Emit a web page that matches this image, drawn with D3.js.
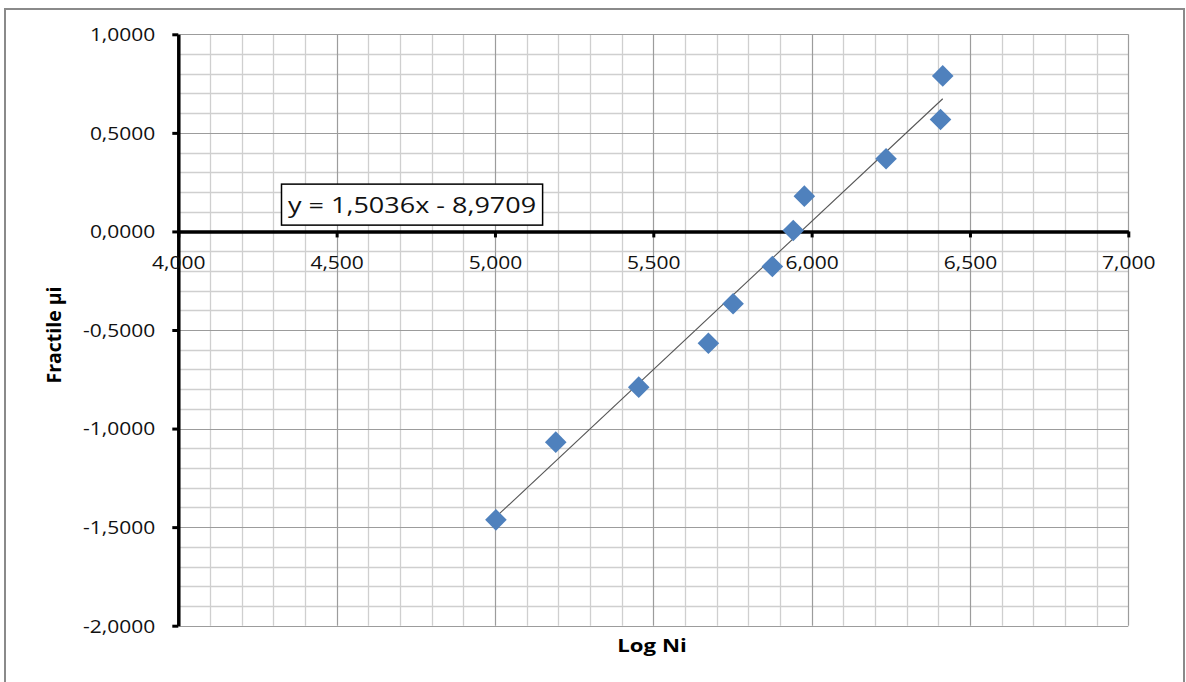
<!DOCTYPE html>
<html>
<head>
<meta charset="utf-8">
<script src="https://cdn.jsdelivr.net/npm/d3@7"></script>
<style>
  html, body { margin: 0; padding: 0; background: #ffffff; }
  svg { display: block; font-family: "Open Sans", "Noto Sans", sans-serif; }
</style>
</head>
<body>
<svg id="chart" width="1186" height="682"></svg>
<script>
// Measured points: log of cycles to failure vs. normal fractile
const logNi    = [5.003, 5.192, 5.454, 5.674, 5.752, 5.876, 5.942, 5.977, 6.235, 6.407, 6.414];
const fractile = [-1.463, -1.069, -0.790, -0.567, -0.367, -0.178, 0.005, 0.179, 0.369, 0.568, 0.789];

// Axis ticks
const xTickValues = [4.0, 4.5, 5.0, 5.5, 6.0, 6.5, 7.0];
const yTickValues = [-2.0, -1.5, -1.0, -0.5, 0.0, 0.5, 1.0];

// Linear trendline coefficients
const trendSlope = 1.5036;
const trendIntercept = -8.9709;

const xTitle = "Log Ni";
const yTitle = "Fractile µi";

// ---- layout ----
const svg = d3.select("#chart");
const plot = { left: 178.3, right: 1128.3, top: 34.3, bottom: 625.7 };
const SX = 1.2; // horizontal text stretch

const x = d3.scaleLinear().domain([4, 7]).range([plot.left, plot.right]);
const y = d3.scaleLinear().domain([-2, 1]).range([plot.bottom, plot.top]);

const loc = d3.formatLocale({ decimal: ",", thousands: ".", grouping: [3], currency: ["", ""], minus: "-" });
const fx = loc.format(".3f");
const fy = loc.format(".4f");
const fc = loc.format(".4f");

// outer chart frame
svg.append("rect")
  .attr("x", 5).attr("y", 9).attr("width", 1179).attr("height", 700)
  .attr("fill", "#ffffff").attr("stroke", "#8a8a8a").attr("stroke-width", 2);

// ---- gridlines ----
const isMajor = v => Math.abs(v * 2 - Math.round(v * 2)) < 1e-6;
const xGrid = d3.range(0, 31).map(i => 4 + i * 0.1);
const yGrid = d3.range(0, 31).map(i => -2 + i * 0.1);

const grid = svg.append("g").attr("class", "grid");
[false, true].forEach(major => {
  grid.selectAll(null)
    .data(xGrid.filter(v => isMajor(v) === major))
    .join("line")
    .attr("x1", d => Math.round(x(d)) + 0.5).attr("x2", d => Math.round(x(d)) + 0.5)
    .attr("y1", plot.top).attr("y2", plot.bottom)
    .attr("stroke", major ? "#9c9c9c" : "#cfcfcf")
    .attr("stroke-width", major ? 1.2 : 1.3);
  grid.selectAll(null)
    .data(yGrid.filter(v => isMajor(v) === major))
    .join("line")
    .attr("y1", d => Math.round(y(d)) + 0.5).attr("y2", d => Math.round(y(d)) + 0.5)
    .attr("x1", plot.left).attr("x2", plot.right)
    .attr("stroke", major ? "#9c9c9c" : "#cfcfcf")
    .attr("stroke-width", major ? 1.2 : 1.3);
});

// ---- trendline ----
const xMin = d3.min(logNi), xMax = d3.max(logNi);
svg.append("line")
  .attr("x1", x(xMin)).attr("y1", y(trendSlope * xMin + trendIntercept))
  .attr("x2", x(xMax)).attr("y2", y(trendSlope * xMax + trendIntercept))
  .attr("stroke", "#555555").attr("stroke-width", 1.1);

// ---- axes ----
const yAxis = svg.append("g")
  .attr("transform", `translate(${plot.left},0)`)
  .call(d3.axisLeft(y).tickValues(yTickValues).tickSize(6).tickSizeOuter(0).tickFormat(fy));
yAxis.select(".domain").attr("stroke", "#000").attr("stroke-width", 3.5);
yAxis.selectAll(".tick line").attr("stroke", "#000").attr("stroke-width", 3);
yAxis.selectAll(".tick text")
  .attr("x", null).attr("dy", "0.36em")
  .attr("transform", `translate(-23,0) scale(${SX},1)`)
  .attr("text-anchor", "end")
  .attr("font-size", 17.5).attr("font-family", "\"Open Sans\", sans-serif")
  .attr("fill", "#111");

const xAxis = svg.append("g")
  .attr("transform", `translate(0,${y(0)})`)
  .call(d3.axisBottom(x).tickValues(xTickValues).tickSize(6).tickSizeOuter(0).tickFormat(fx));
xAxis.select(".domain").attr("stroke", "#000").attr("stroke-width", 3.5);
xAxis.selectAll(".tick line").attr("stroke", "#000").attr("stroke-width", 3);
xAxis.selectAll(".tick text")
  .attr("y", null).attr("dy", "0.36em")
  .attr("transform", `translate(0,31) scale(${SX},1)`)
  .attr("text-anchor", "middle")
  .attr("font-size", 17.5).attr("font-family", "\"Open Sans\", sans-serif")
  .attr("fill", "#111");

// ---- points (diamonds) ----
const r = 10.8;
const diamond = `M0,${-r}L${r},0L0,${r}L${-r},0Z`;
svg.append("g").selectAll("path")
  .data(logNi.map((v, i) => [v, fractile[i]]))
  .join("path")
  .attr("d", diamond)
  .attr("transform", d => `translate(${x(d[0])},${y(d[1])})`)
  .attr("fill", "#4f81bd");

// ---- equation label ----
const eqText = `y = ${fc(trendSlope)}x - ${fc(Math.abs(trendIntercept))}`;
const eqG = svg.append("g").attr("transform", `translate(288,${y(0.135)})`);
const eqRect = eqG.append("rect");
const eq = eqG.append("text")
  .attr("transform", `scale(${SX},1)`)
  .attr("dy", "0.36em")
  .attr("font-size", 22.5)
  .attr("fill", "#111")
  .text(eqText);
const bb = eq.node().getBBox();
eqRect
  .attr("x", -6.5).attr("y", -20.7)
  .attr("width", bb.width * SX + 13).attr("height", 41)
  .attr("fill", "#ffffff").attr("stroke", "#000").attr("stroke-width", 1.5);

// ---- axis titles ----
svg.append("text")
  .attr("transform", `translate(652,645) scale(${SX},1)`)
  .attr("text-anchor", "middle").attr("dy", "0.36em")
  .attr("font-size", 18.5).attr("font-weight", "bold").attr("fill", "#000")
  .text(xTitle);

svg.append("text")
  .attr("transform", "translate(54,335) rotate(-90)")
  .attr("text-anchor", "middle").attr("dy", "0.36em")
  .attr("font-size", 19.5).attr("font-weight", "bold").attr("fill", "#000")
  .text(yTitle);
</script>
</body>
</html>
